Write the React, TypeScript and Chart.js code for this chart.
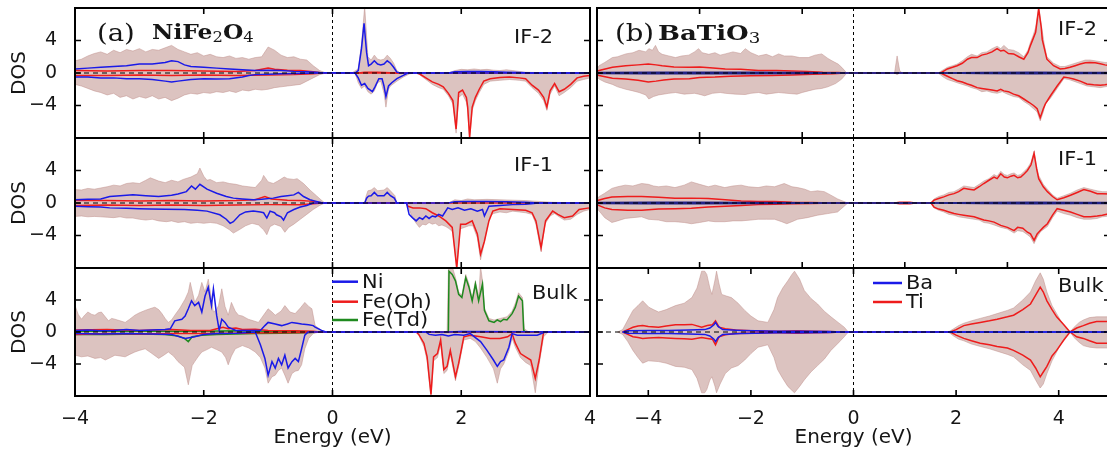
import React, { useEffect, useRef } from 'react';
import { Chart, registerables } from 'chart.js';

Chart.register(...registerables);

type Pt = [number, number];

// ---------------- tick values ----------------
const leftTicks = [-4, -2, 0, 2, 4];
const rightOddTicks = [-5, -3, -1, 1, 3, 5];
const rightEvenTicks = [-4, -2, 0, 2, 4];
const dosTicks = [-4, 0, 4];

// ---------------- (a) NiFe2O4 : IF-2 ----------------
const nfIf2TotUp: Pt[] = [[-4,1.5],[-3.9,1.7],[-3.8,2.1],[-3.7,2.4],[-3.6,2.6],[-3.5,2.3],[-3.4,2.8],[-3.3,2.5],[-3.2,2.9],[-3.1,2.7],[-3.0,3.0],[-2.9,2.6],[-2.8,2.9],[-2.7,2.8],[-2.6,3.1],[-2.5,3.4],[-2.4,2.9],[-2.3,2.6],[-2.2,2.3],[-2.1,2.5],[-2.0,2.1],[-1.9,2.3],[-1.8,2.0],[-1.7,1.9],[-1.6,2.1],[-1.5,1.8],[-1.4,1.9],[-1.3,1.7],[-1.2,1.9],[-1.1,2.0],[-1.0,3.2],[-0.9,2.8],[-0.8,2.2],[-0.7,1.9],[-0.6,2.0],[-0.5,1.7],[-0.4,1.6],[-0.3,0.9],[-0.2,0.3],[-0.1,0],[0.3,0],[0.4,0.5],[0.45,3.5],[0.5,8.2],[0.55,2.0],[0.6,1.6],[0.65,2.2],[0.7,1.7],[0.75,1.6],[0.8,1.7],[0.85,2.2],[0.9,1.8],[0.95,1.2],[1.0,0.3],[1.05,0],[1.8,0],[1.9,0.3],[2.0,0.45],[2.1,0.4],[2.2,0.5],[2.3,0.4],[2.4,0.45],[2.5,0.35],[2.6,0.3],[2.7,0.4],[2.8,0.3],[2.9,0.2],[3.0,0.1],[3.2,0.05],[4,0.05]];
const nfIf2TotDn: Pt[] = [[-4,-1.4],[-3.9,-1.6],[-3.8,-1.9],[-3.7,-2.2],[-3.6,-2.4],[-3.5,-2.7],[-3.4,-2.5],[-3.3,-3.0],[-3.2,-2.8],[-3.1,-3.2],[-3.0,-2.9],[-2.9,-3.1],[-2.8,-2.8],[-2.7,-3.2],[-2.6,-3.0],[-2.5,-3.4],[-2.4,-3.1],[-2.3,-2.7],[-2.2,-2.5],[-2.1,-2.6],[-2.0,-2.4],[-1.9,-2.5],[-1.8,-2.3],[-1.7,-2.4],[-1.6,-2.2],[-1.5,-2.4],[-1.4,-2.1],[-1.3,-2.2],[-1.2,-2.0],[-1.1,-2.1],[-1.0,-2.0],[-0.9,-1.8],[-0.8,-1.7],[-0.7,-1.6],[-0.6,-1.5],[-0.5,-1.4],[-0.4,-1.0],[-0.3,-0.6],[-0.2,-0.2],[-0.1,0],[0.35,0],[0.4,-1.2],[0.45,-1.9],[0.5,-1.6],[0.55,-2.3],[0.6,-2.6],[0.65,-2.2],[0.7,-1.2],[0.75,-1.0],[0.8,-2.5],[0.83,-4.2],[0.87,-2.0],[0.9,-1.6],[1.0,-1.0],[1.1,-0.5],[1.2,-0.1],[1.3,0],[1.35,-0.2],[1.45,-0.8],[1.55,-1.4],[1.65,-1.8],[1.72,-2.0],[1.8,-2.8],[1.87,-3.8],[1.92,-7.4],[1.96,-3.0],[2.02,-2.6],[2.08,-3.6],[2.1,-4.6],[2.13,-8.2],[2.17,-4.6],[2.22,-3.4],[2.28,-2.4],[2.35,-1.4],[2.45,-1.0],[2.6,-0.9],[2.75,-0.8],[2.9,-0.9],[3.0,-1.0],[3.1,-1.8],[3.2,-2.5],[3.28,-3.4],[3.33,-4.6],[3.38,-2.6],[3.45,-1.6],[3.52,-2.8],[3.6,-2.4],[3.7,-1.8],[3.8,-1.0],[3.9,-0.8],[4,-0.6]];
const nfIf2NiUp: Pt[] = [[-4,0.5],[-3.8,0.6],[-3.6,0.7],[-3.4,0.8],[-3.2,0.9],[-3.0,1.1],[-2.8,1.1],[-2.6,1.3],[-2.5,1.5],[-2.4,1.4],[-2.3,1.0],[-2.2,0.8],[-2.0,0.7],[-1.8,0.6],[-1.6,0.5],[-1.4,0.4],[-1.2,0.3],[-1.0,0.35],[-0.8,0.3],[-0.6,0.2],[-0.4,0.15],[-0.2,0.05],[0.35,0],[0.4,0.3],[0.45,3.0],[0.49,6.1],[0.53,2.5],[0.56,0.9],[0.6,1.1],[0.65,1.5],[0.7,1.1],[0.75,1.0],[0.8,1.1],[0.85,1.5],[0.9,1.2],[0.95,0.7],[1.0,0.1],[1.05,0],[1.8,0],[1.9,0.15],[2.1,0.2],[2.3,0.2],[2.5,0.15],[2.7,0.1],[2.9,0.05],[3.1,0],[4,0]];
const nfIf2NiDn: Pt[] = [[-4,-0.5],[-3.8,-0.5],[-3.6,-0.6],[-3.4,-0.6],[-3.2,-0.7],[-3.0,-0.7],[-2.8,-0.8],[-2.6,-1.0],[-2.5,-1.1],[-2.4,-1.0],[-2.2,-0.8],[-2.0,-0.7],[-1.8,-0.75],[-1.6,-0.7],[-1.4,-0.5],[-1.3,-0.3],[-1.2,-0.2],[-1.0,-0.15],[-0.8,-0.1],[-0.6,-0.05],[-0.2,0],[0.35,0],[0.4,-0.6],[0.45,-1.5],[0.5,-1.3],[0.55,-1.9],[0.62,-2.3],[0.66,-1.7],[0.72,-0.7],[0.77,-0.7],[0.8,-1.6],[0.83,-2.9],[0.87,-1.6],[0.92,-1.2],[1.0,-0.7],[1.1,-0.3],[1.17,0],[4,0]];
const nfIf2FeUp: Pt[] = [[-4,0.3],[-3.5,0.25],[-3,0.3],[-2.5,0.3],[-2,0.25],[-1.5,0.2],[-1.2,0.3],[-1.0,0.6],[-0.9,0.45],[-0.7,0.35],[-0.5,0.3],[-0.3,0.15],[-0.15,0],[0.4,0],[0.5,0.1],[0.7,0.1],[1.0,0],[4,0]];
const nfIf2FeDn: Pt[] = [[-4,-0.3],[-3.5,-0.3],[-3,-0.25],[-2.5,-0.3],[-2,-0.25],[-1.5,-0.3],[-1,-0.25],[-0.6,-0.2],[-0.3,-0.1],[-0.15,0],[1.3,0],[1.35,-0.1],[1.45,-0.6],[1.55,-1.1],[1.65,-1.4],[1.72,-1.7],[1.8,-2.5],[1.87,-3.4],[1.92,-6.9],[1.96,-2.4],[2.02,-2.1],[2.08,-3.0],[2.1,-4.2],[2.13,-7.9],[2.17,-4.2],[2.22,-3.0],[2.28,-2.0],[2.35,-1.0],[2.45,-0.7],[2.6,-0.55],[2.75,-0.5],[2.9,-0.6],[3.0,-0.7],[3.1,-1.5],[3.2,-2.1],[3.28,-3.0],[3.33,-4.2],[3.38,-2.2],[3.45,-1.3],[3.52,-2.3],[3.6,-2.0],[3.7,-1.4],[3.8,-0.6],[3.9,-0.4],[4,-0.3]];

// ---------------- (a) NiFe2O4 : IF-1 ----------------
const nfIf1TotUp: Pt[] = [[-4,1.65],[-3.9,1.6],[-3.8,1.8],[-3.7,1.7],[-3.6,1.85],[-3.5,2.0],[-3.4,2.2],[-3.3,2.1],[-3.2,2.4],[-3.1,2.5],[-3.0,2.4],[-2.9,2.8],[-2.83,3.1],[-2.7,2.7],[-2.6,2.5],[-2.5,2.8],[-2.4,2.6],[-2.32,2.9],[-2.2,3.2],[-2.1,3.6],[-2.06,4.3],[-2.0,3.3],[-1.95,2.8],[-1.9,2.9],[-1.8,2.5],[-1.7,2.6],[-1.6,2.4],[-1.5,2.3],[-1.4,2.1],[-1.3,2.0],[-1.2,1.9],[-1.1,2.8],[-1.07,3.4],[-1.0,2.6],[-0.92,2.4],[-0.85,2.7],[-0.75,3.2],[-0.7,3.0],[-0.6,2.9],[-0.55,3.0],[-0.45,2.4],[-0.35,1.6],[-0.25,0.9],[-0.18,0.4],[-0.12,0],[0.5,0],[0.52,0.8],[0.55,1.5],[0.6,1.6],[0.65,1.9],[0.7,1.5],[0.8,1.6],[0.85,1.9],[0.9,1.5],[0.97,0.9],[1.0,0],[1.8,0],[1.9,0.4],[2.0,0.3],[2.1,0.5],[2.2,0.4],[2.4,0.45],[2.6,0.4],[2.8,0.35],[3.0,0.3],[3.2,0.2],[3.4,0.1],[3.6,0.05],[4,0.05]];
const nfIf1TotDn: Pt[] = [[-4,-1.65],[-3.9,-1.6],[-3.8,-1.7],[-3.7,-1.65],[-3.6,-1.7],[-3.5,-1.75],[-3.4,-1.8],[-3.3,-1.7],[-3.2,-1.85],[-3.1,-1.85],[-3.0,-2.0],[-2.9,-2.1],[-2.8,-2.0],[-2.7,-2.2],[-2.58,-2.3],[-2.5,-2.2],[-2.4,-2.4],[-2.3,-2.3],[-2.2,-2.5],[-2.1,-2.4],[-2.0,-2.5],[-1.9,-2.4],[-1.8,-2.5],[-1.7,-2.8],[-1.6,-3.3],[-1.54,-3.7],[-1.45,-3.3],[-1.35,-2.8],[-1.25,-2.5],[-1.15,-2.7],[-1.07,-3.3],[-1.02,-3.9],[-0.97,-2.9],[-0.9,-2.6],[-0.8,-2.9],[-0.74,-3.6],[-0.68,-3.0],[-0.6,-2.6],[-0.5,-2.0],[-0.4,-1.4],[-0.3,-0.8],[-0.2,-0.3],[-0.12,0],[1.15,0],[1.2,-1.0],[1.25,-1.9],[1.3,-2.5],[1.35,-3.0],[1.4,-2.6],[1.45,-2.7],[1.5,-2.4],[1.55,-2.6],[1.6,-2.5],[1.65,-2.8],[1.7,-2.7],[1.76,-2.9],[1.82,-3.2],[1.87,-3.6],[1.93,-8.2],[1.98,-3.2],[2.05,-3.0],[2.12,-2.8],[2.18,-2.8],[2.25,-4.3],[2.3,-7.0],[2.35,-5.2],[2.4,-3.0],[2.45,-1.6],[2.5,-1.3],[2.6,-1.1],[2.7,-1.2],[2.8,-1.0],[2.9,-1.1],[3.0,-1.2],[3.1,-1.4],[3.16,-2.6],[3.24,-6.0],[3.3,-2.6],[3.38,-1.6],[3.45,-1.3],[3.52,-1.7],[3.6,-2.1],[3.7,-2.0],[3.8,-1.4],[3.9,-1.0],[4,-0.8]];
const nfIf1NiUp: Pt[] = [[-4,0.4],[-3.8,0.45],[-3.6,0.5],[-3.46,0.8],[-3.3,0.9],[-3.1,1.0],[-2.9,0.9],[-2.7,0.8],[-2.5,0.95],[-2.4,1.1],[-2.27,1.4],[-2.19,2.1],[-2.13,1.7],[-2.06,2.3],[-1.95,1.7],[-1.8,1.2],[-1.65,0.8],[-1.54,0.6],[-1.4,0.5],[-1.23,0.4],[-1.1,0.45],[-0.92,0.6],[-0.8,0.8],[-0.7,0.9],[-0.6,1.0],[-0.53,1.3],[-0.45,0.8],[-0.35,0.4],[-0.25,0.2],[-0.15,0],[0.5,0],[0.53,0.6],[0.56,0.85],[0.6,0.9],[0.65,1.3],[0.7,0.9],[0.8,0.9],[0.85,1.3],[0.9,0.9],[0.96,0.6],[1.0,0],[1.8,0],[1.9,0.15],[2.1,0.2],[2.4,0.2],[2.7,0.15],[3.0,0.1],[3.2,0],[4,0]];
const nfIf1NiDn: Pt[] = [[-4,-0.4],[-3.8,-0.45],[-3.6,-0.5],[-3.46,-0.6],[-3.2,-0.65],[-3.0,-0.7],[-2.83,-0.75],[-2.6,-0.78],[-2.3,-0.8],[-2.1,-0.9],[-1.95,-1.0],[-1.75,-1.45],[-1.65,-2.0],[-1.59,-2.5],[-1.54,-2.3],[-1.44,-1.45],[-1.35,-1.1],[-1.23,-1.0],[-1.12,-1.1],[-1.07,-1.2],[-1.02,-1.85],[-0.97,-1.0],[-0.9,-1.2],[-0.87,-1.45],[-0.8,-1.7],[-0.76,-2.1],[-0.7,-1.2],[-0.6,-0.8],[-0.5,-0.5],[-0.4,-0.3],[-0.3,0],[1.15,0],[1.19,-1.4],[1.24,-1.8],[1.3,-2.2],[1.35,-1.8],[1.4,-2.0],[1.45,-1.6],[1.5,-1.9],[1.55,-1.6],[1.6,-1.7],[1.65,-1.4],[1.71,-1.6],[1.79,-0.6],[1.86,-0.8],[1.95,-0.6],[2.05,-0.9],[2.15,-0.7],[2.25,-1.0],[2.33,-0.8],[2.36,-1.6],[2.43,-0.4],[2.6,-0.3],[2.8,-0.2],[3.0,-0.15],[3.2,0],[4,0]];
const nfIf1FeUp: Pt[] = [[-4,0.3],[-3.5,0.3],[-3,0.25],[-2.5,0.3],[-2,0.25],[-1.5,0.3],[-1.2,0.4],[-1.05,0.8],[-0.95,0.5],[-0.7,0.35],[-0.5,0.3],[-0.3,0.2],[-0.15,0],[4,0]];
const nfIf1FeDn: Pt[] = [[-4,-0.3],[-3.5,-0.25],[-3,-0.3],[-2.5,-0.25],[-2,-0.3],[-1.5,-0.25],[-1,-0.2],[-0.5,-0.2],[-0.3,-0.1],[-0.15,0],[1.15,0],[1.17,-0.4],[1.25,-0.6],[1.35,-0.6],[1.45,-0.7],[1.55,-1.2],[1.65,-1.6],[1.76,-2.2],[1.86,-3.0],[1.93,-8.0],[1.99,-2.6],[2.07,-2.6],[2.17,-2.2],[2.25,-3.8],[2.3,-6.3],[2.36,-4.7],[2.43,-2.2],[2.49,-1.0],[2.6,-0.7],[2.8,-0.8],[3.0,-0.9],[3.1,-1.2],[3.16,-2.2],[3.24,-5.5],[3.31,-2.2],[3.42,-1.0],[3.5,-1.4],[3.6,-1.8],[3.73,-1.6],[3.83,-0.8],[3.99,-0.6],[4,-0.6]];

// ---------------- (a) NiFe2O4 : Bulk ----------------
const nfBulkTotUp: Pt[] = [[-4,3.3],[-3.95,2.2],[-3.9,1.6],[-3.85,2.1],[-3.8,2.5],[-3.74,2.2],[-3.69,2.1],[-3.64,2.4],[-3.59,2.5],[-3.53,1.9],[-3.48,1.4],[-3.43,1.7],[-3.38,1.6],[-3.3,1.4],[-3.22,1.2],[-3.15,1.6],[-3.07,2.1],[-3.0,2.4],[-2.91,2.7],[-2.84,2.9],[-2.76,3.1],[-2.7,2.8],[-2.65,2.3],[-2.6,1.7],[-2.55,1.2],[-2.5,1.5],[-2.45,2.1],[-2.37,3.0],[-2.29,4.1],[-2.24,5.0],[-2.21,6.2],[-2.17,4.8],[-2.14,3.7],[-2.08,4.6],[-2.03,6.2],[-1.98,5.0],[-1.93,6.6],[-1.88,4.2],[-1.85,2.5],[-1.8,2.8],[-1.77,3.3],[-1.72,5.4],[-1.67,3.2],[-1.62,2.1],[-1.57,3.7],[-1.51,2.6],[-1.46,2.1],[-1.4,2.0],[-1.31,1.6],[-1.23,1.4],[-1.15,1.2],[-1.08,2.0],[-1.0,2.9],[-0.94,2.5],[-0.89,2.1],[-0.8,2.6],[-0.74,3.3],[-0.66,2.5],[-0.58,2.3],[-0.5,3.0],[-0.43,3.7],[-0.37,3.2],[-0.32,2.9],[-0.27,0.8],[-0.17,0.2],[-0.1,0],[1.78,0],[1.8,7.8],[1.86,8.2],[1.91,6.8],[1.96,5.0],[2.01,4.6],[2.07,7.2],[2.12,6.0],[2.17,4.2],[2.22,6.4],[2.27,4.3],[2.3,8.2],[2.33,6.4],[2.36,3.0],[2.43,1.7],[2.51,1.5],[2.61,1.7],[2.71,1.9],[2.79,2.6],[2.84,3.6],[2.89,4.9],[2.95,4.3],[2.98,0.4],[3.05,0],[4,0]];
const nfBulkTotDn: Pt[] = [[-4,-2.9],[-3.9,-3.1],[-3.8,-3.0],[-3.69,-3.3],[-3.6,-3.2],[-3.53,-3.5],[-3.45,-3.2],[-3.38,-2.9],[-3.3,-3.0],[-3.22,-3.1],[-3.15,-2.8],[-3.07,-2.5],[-3.0,-2.3],[-2.91,-2.1],[-2.82,-2.6],[-2.7,-3.3],[-2.62,-2.9],[-2.55,-2.5],[-2.47,-3.0],[-2.4,-3.7],[-2.3,-4.4],[-2.24,-6.6],[-2.18,-4.2],[-2.14,-3.7],[-2.08,-3.0],[-2.03,-2.5],[-1.95,-2.2],[-1.88,-1.9],[-1.8,-2.2],[-1.72,-2.5],[-1.66,-3.2],[-1.62,-4.1],[-1.57,-3.0],[-1.51,-2.1],[-1.4,-1.7],[-1.3,-2.0],[-1.2,-2.5],[-1.12,-3.2],[-1.05,-4.5],[-1.0,-6.4],[-0.94,-5.6],[-0.89,-5.4],[-0.84,-4.8],[-0.79,-4.5],[-0.74,-5.4],[-0.69,-6.4],[-0.63,-5.2],[-0.58,-4.9],[-0.53,-4.8],[-0.48,-4.1],[-0.43,-2.1],[-0.37,-0.8],[-0.3,-0.2],[-0.2,0],[1.3,0],[1.34,-0.4],[1.42,-1.8],[1.47,-3.6],[1.5,-6.0],[1.53,-8.2],[1.57,-3.6],[1.63,-3.2],[1.68,-1.6],[1.73,-5.2],[1.78,-4.8],[1.83,-2.8],[1.91,-6.1],[1.96,-4.3],[2.04,-1.0],[2.14,-0.8],[2.22,-1.2],[2.3,-2.0],[2.4,-3.2],[2.5,-4.6],[2.56,-6.4],[2.61,-4.6],[2.66,-4.0],[2.74,-2.4],[2.79,-0.8],[2.84,-1.9],[2.92,-3.2],[3.0,-3.8],[3.08,-4.2],[3.15,-7.6],[3.21,-4.0],[3.28,-0.6],[3.35,0],[4,0]];
const nfBulkNiUp: Pt[] = [[-4,0.2],[-3.8,0.25],[-3.6,0.15],[-3.4,0.2],[-3.2,0.3],[-3.0,0.2],[-2.8,0.25],[-2.6,0.3],[-2.52,0.4],[-2.45,1.4],[-2.34,1.6],[-2.29,2.0],[-2.24,2.9],[-2.19,3.9],[-2.14,3.3],[-2.08,3.7],[-2.03,2.5],[-1.98,4.5],[-1.93,5.6],[-1.88,3.3],[-1.85,5.4],[-1.8,2.1],[-1.76,0.2],[-1.72,1.6],[-1.67,1.2],[-1.62,0.6],[-1.5,0.2],[-1.3,0.2],[-1.12,0.2],[-1.05,0.8],[-1.0,1.2],[-0.89,1.0],[-0.79,0.8],[-0.7,1.0],[-0.63,1.2],[-0.55,1.1],[-0.48,1.0],[-0.37,0.9],[-0.3,0.8],[-0.27,0.6],[-0.17,0.2],[-0.1,0],[1.8,0],[2.0,0.05],[4,0]];
const nfBulkNiDn: Pt[] = [[-4,-0.2],[-3.6,-0.25],[-3.2,-0.2],[-2.8,-0.25],[-2.5,-0.3],[-2.29,-0.8],[-2.14,-0.6],[-2.0,-0.3],[-1.8,-0.2],[-1.5,-0.15],[-1.2,0],[-1.12,-1.6],[-1.05,-3.3],[-1.0,-5.4],[-0.94,-3.7],[-0.89,-4.5],[-0.84,-3.3],[-0.79,-4.1],[-0.74,-2.9],[-0.69,-4.5],[-0.63,-3.7],[-0.58,-3.3],[-0.53,-3.7],[-0.48,-2.1],[-0.43,-0.4],[-0.38,0],[1.45,0],[1.5,-0.3],[1.6,-0.4],[1.7,-0.3],[1.8,-0.5],[1.9,-0.3],[2.04,-0.4],[2.14,-0.2],[2.3,-1.2],[2.4,-2.3],[2.5,-3.5],[2.56,-4.3],[2.61,-3.7],[2.66,-3.5],[2.74,-1.9],[2.79,-0.2],[2.87,-0.4],[3.0,-0.4],[3.18,-0.4],[3.3,0],[4,0]];
const nfBulkFeOhUp: Pt[] = [[-4,0.25],[-3.5,0.3],[-3.0,0.2],[-2.5,0.3],[-2.2,0.2],[-1.9,0.2],[-1.75,0.5],[-1.7,0.6],[-1.62,0.4],[-1.5,0.5],[-1.4,0.3],[-1.2,0.35],[-1.0,0.2],[-0.6,0.15],[-0.3,0.1],[-0.2,0],[4,0]];
const nfBulkFeOhDn: Pt[] = [[-4,-0.3],[-3.5,-0.2],[-3,-0.25],[-2.5,-0.2],[-2,-0.2],[-1.5,-0.15],[-1,-0.1],[-0.4,-0.05],[-0.2,0],[1.3,0],[1.34,-0.3],[1.42,-1.4],[1.47,-3.1],[1.5,-5.5],[1.53,-7.8],[1.57,-3.1],[1.63,-2.7],[1.68,-1.0],[1.73,-4.7],[1.78,-4.3],[1.83,-2.3],[1.91,-5.6],[1.96,-3.9],[2.04,-0.6],[2.14,-0.4],[2.3,-0.6],[2.45,-0.8],[2.6,-0.8],[2.72,-0.6],[2.79,-0.2],[2.84,-1.4],[2.92,-2.7],[3.0,-3.1],[3.08,-3.5],[3.15,-5.8],[3.21,-3.5],[3.28,0],[4,0]];
const nfBulkFeTdUp: Pt[] = [[-4,0.1],[-3,0.1],[-2,0.1],[-1.5,0.15],[-1,0.1],[-0.5,0.05],[-0.2,0],[1.8,0],[1.81,7.6],[1.86,7.2],[1.91,6.4],[1.96,4.7],[2.01,4.3],[2.07,6.8],[2.12,5.6],[2.17,3.9],[2.22,6.0],[2.27,3.9],[2.33,6.0],[2.36,2.7],[2.43,1.4],[2.51,1.2],[2.56,1.5],[2.61,1.3],[2.66,1.6],[2.71,1.5],[2.79,2.3],[2.84,3.1],[2.89,4.5],[2.95,3.9],[2.97,0.2],[3.0,0],[4,0]];
const nfBulkFeTdDn: Pt[] = [[-4,-0.3],[-3.5,-0.3],[-3.0,-0.25],[-2.6,-0.3],[-2.4,-0.5],[-2.3,-0.8],[-2.24,-1.2],[-2.18,-0.6],[-2.03,-0.4],[-1.8,-0.3],[-1.5,-0.25],[-1.2,-0.2],[-0.8,-0.15],[-0.4,-0.1],[-0.2,0],[4,0]];

// ---------------- (b) BaTiO3 : IF-2 ----------------
const btIf2TotUp: Pt[] = [[-5,0.5],[-4.96,0.9],[-4.85,1.3],[-4.7,1.9],[-4.6,2.0],[-4.44,2.35],[-4.3,2.5],[-4.18,2.8],[-4.05,2.6],[-3.99,3.0],[-3.92,2.8],[-3.86,3.4],[-3.8,2.6],[-3.73,2.3],[-3.6,2.1],[-3.47,1.9],[-3.35,2.1],[-3.21,2.2],[-3.1,2.6],[-3.02,3.0],[-2.95,2.5],[-2.82,2.3],[-2.7,2.5],[-2.6,2.2],[-2.5,2.35],[-2.35,2.6],[-2.2,2.4],[-2.11,3.0],[-2.0,2.5],[-1.85,2.1],[-1.7,2.3],[-1.58,2.0],[-1.46,2.35],[-1.35,2.1],[-1.2,2.1],[-1.05,1.9],[-0.88,1.9],[-0.75,2.2],[-0.62,2.35],[-0.5,1.8],[-0.42,1.5],[-0.3,1.1],[-0.23,0.7],[-0.13,0],[0.8,0],[0.85,2.1],[0.9,0.3],[0.95,0],[1.65,0],[1.75,0.4],[1.83,0.7],[1.93,0.9],[2.02,1.1],[2.12,1.5],[2.22,2.0],[2.3,2.3],[2.41,2.1],[2.5,2.5],[2.6,2.6],[2.7,3.0],[2.8,3.3],[2.87,3.0],[2.93,3.4],[3.02,2.9],[3.12,2.8],[3.22,2.5],[3.32,2.0],[3.4,2.8],[3.45,3.8],[3.5,4.6],[3.55,5.6],[3.61,8.2],[3.66,6.0],[3.72,3.5],[3.77,2.0],[3.9,1.2],[4.03,0.8],[4.12,0.8],[4.22,1.0],[4.32,1.2],[4.42,1.4],[4.52,1.6],[4.61,1.6],[4.71,1.5],[4.81,1.4],[4.9,1.3],[5,1.3]];
const btIf2TotDn: Pt[] = [[-5,-0.5],[-4.96,-0.75],[-4.85,-1.1],[-4.7,-1.4],[-4.6,-1.7],[-4.44,-2.0],[-4.3,-2.2],[-4.18,-2.4],[-4.05,-2.7],[-3.99,-3.2],[-3.9,-2.9],[-3.8,-2.7],[-3.6,-2.5],[-3.47,-2.4],[-3.3,-2.6],[-3.1,-2.5],[-3.02,-2.6],[-2.9,-2.8],[-2.75,-2.5],[-2.6,-2.4],[-2.5,-2.5],[-2.3,-2.6],[-2.11,-2.65],[-2.0,-2.5],[-1.85,-2.4],[-1.7,-2.6],[-1.46,-2.4],[-1.3,-2.5],[-1.1,-2.6],[-1.0,-2.4],[-0.88,-2.2],[-0.75,-2.0],[-0.62,-1.9],[-0.5,-1.7],[-0.35,-1.3],[-0.23,-0.75],[-0.13,0],[0.8,0],[0.85,-0.2],[0.9,0],[1.65,0],[1.75,-0.5],[1.83,-0.8],[1.93,-1.0],[2.02,-1.2],[2.12,-1.4],[2.22,-1.6],[2.3,-1.8],[2.41,-2.0],[2.5,-2.3],[2.6,-2.2],[2.7,-2.4],[2.8,-2.5],[2.9,-2.3],[3.0,-2.6],[3.12,-2.9],[3.22,-3.0],[3.32,-3.5],[3.42,-3.9],[3.51,-4.4],[3.58,-4.8],[3.64,-5.9],[3.7,-4.8],[3.74,-3.8],[3.84,-3.1],[3.97,-1.9],[4.1,-0.7],[4.2,-0.8],[4.29,-1.0],[4.42,-1.3],[4.55,-1.6],[4.68,-1.7],[4.81,-1.8],[4.9,-1.7],[5,-1.6]];
const btIf2TiUp: Pt[] = [[-5,0.2],[-4.96,0.3],[-4.7,0.7],[-4.44,0.9],[-4.2,1.0],[-4.0,1.1],[-3.85,1.0],[-3.73,0.9],[-3.5,0.75],[-3.2,0.7],[-3.0,0.75],[-2.8,0.65],[-2.5,0.5],[-2.2,0.45],[-1.85,0.3],[-1.5,0.3],[-1.2,0.25],[-0.9,0.2],[-0.6,0.1],[-0.3,0.05],[-0.15,0],[1.7,0],[1.83,0.5],[1.93,0.7],[2.02,0.9],[2.12,1.2],[2.22,1.7],[2.3,1.9],[2.41,1.9],[2.5,2.2],[2.6,2.35],[2.7,2.6],[2.8,3.0],[2.87,2.7],[2.93,2.8],[3.02,2.4],[3.12,2.35],[3.22,2.0],[3.32,1.7],[3.4,2.5],[3.45,3.4],[3.5,4.2],[3.55,5.0],[3.61,7.9],[3.66,5.6],[3.68,4.1],[3.77,1.7],[3.9,0.9],[4.03,0.5],[4.12,0.55],[4.22,0.7],[4.32,0.9],[4.42,1.1],[4.52,1.25],[4.61,1.3],[4.71,1.25],[4.81,1.15],[4.9,1.0],[5,0.9]];
const btIf2TiDn: Pt[] = [[-5,-0.2],[-4.96,-0.3],[-4.7,-0.65],[-4.44,-0.75],[-4.2,-0.9],[-4.0,-1.1],[-3.85,-1.0],[-3.7,-0.85],[-3.5,-0.75],[-3.2,-0.7],[-3.0,-0.55],[-2.7,-0.5],[-2.4,-0.4],[-2.0,-0.35],[-1.6,-0.3],[-1.2,-0.25],[-0.8,-0.15],[-0.4,-0.1],[-0.15,0],[1.7,0],[1.83,-0.4],[1.93,-0.7],[2.02,-0.95],[2.12,-1.1],[2.22,-1.35],[2.3,-1.5],[2.41,-1.8],[2.5,-1.9],[2.6,-2.0],[2.7,-2.1],[2.8,-2.2],[2.87,-2.0],[2.93,-2.2],[3.02,-2.3],[3.12,-2.6],[3.22,-2.8],[3.32,-3.2],[3.42,-3.6],[3.51,-4.0],[3.58,-4.4],[3.64,-5.5],[3.7,-4.4],[3.74,-3.8],[3.84,-2.8],[3.97,-1.6],[4.1,-0.5],[4.2,-0.6],[4.29,-0.75],[4.42,-1.0],[4.55,-1.35],[4.68,-1.45],[4.81,-1.5],[4.9,-1.45],[5,-1.35]];
const btIf2BaUp: Pt[] = [[-5,0.05],[-4,0.08],[-3,0.1],[-2,0.08],[-1,0.05],[-0.2,0],[1.7,0],[2.5,0.05],[3.5,0.08],[4.5,0.05],[5,0.05]];
const btIf2BaDn: Pt[] = [[-5,-0.05],[-4,-0.08],[-3,-0.1],[-2,-0.08],[-1,-0.05],[-0.2,0],[1.7,0],[2.5,-0.05],[3.5,-0.08],[4.5,-0.05],[5,-0.05]];

// ---------------- (b) BaTiO3 : IF-1 ----------------
const btIf1TotUp: Pt[] = [[-5,0.4],[-4.97,0.75],[-4.85,1.2],[-4.71,1.8],[-4.6,2.0],[-4.45,2.2],[-4.3,2.1],[-4.13,2.4],[-4.0,2.3],[-3.9,2.1],[-3.8,2.0],[-3.65,2.1],[-3.48,1.9],[-3.3,2.2],[-3.16,2.6],[-3.0,2.3],[-2.83,2.0],[-2.7,2.2],[-2.51,1.9],[-2.35,2.1],[-2.19,2.2],[-2.05,2.0],[-1.86,1.9],[-1.7,2.1],[-1.54,2.0],[-1.35,2.4],[-1.2,2.0],[-1.09,1.9],[-0.95,1.7],[-0.83,1.4],[-0.7,1.5],[-0.57,1.4],[-0.45,1.0],[-0.31,0.5],[-0.11,0],[1.51,0],[1.57,0.5],[1.66,0.8],[1.76,1.0],[1.86,1.3],[1.96,1.4],[2.05,1.7],[2.15,2.1],[2.25,2.0],[2.35,1.9],[2.45,2.3],[2.54,2.7],[2.64,3.0],[2.74,3.5],[2.8,3.3],[2.87,3.9],[2.94,3.5],[3.0,3.4],[3.07,3.6],[3.13,3.7],[3.2,3.4],[3.26,3.5],[3.33,3.9],[3.39,4.3],[3.46,5.0],[3.52,6.4],[3.57,4.5],[3.61,3.4],[3.7,2.3],[3.78,1.7],[3.88,1.0],[3.97,0.6],[4.1,0.9],[4.23,1.2],[4.36,1.6],[4.49,1.9],[4.62,1.7],[4.75,1.5],[4.85,1.4],[5,1.4]];
const btIf1TotDn: Pt[] = [[-5,-0.5],[-4.97,-0.9],[-4.85,-1.8],[-4.71,-2.4],[-4.6,-2.2],[-4.45,-1.9],[-4.3,-1.8],[-4.13,-1.7],[-4.0,-2.0],[-3.8,-2.1],[-3.65,-2.3],[-3.48,-2.3],[-3.3,-2.4],[-3.16,-2.55],[-3.0,-2.4],[-2.83,-2.2],[-2.7,-2.3],[-2.51,-2.3],[-2.35,-2.2],[-2.19,-2.2],[-2.0,-2.1],[-1.86,-2.0],[-1.7,-2.0],[-1.54,-2.0],[-1.4,-2.3],[-1.3,-2.55],[-1.2,-2.3],[-1.09,-2.0],[-0.9,-1.8],[-0.7,-1.5],[-0.5,-1.3],[-0.31,-1.1],[-0.2,-0.5],[-0.11,0],[1.51,0],[1.57,-0.6],[1.66,-0.9],[1.76,-1.1],[1.86,-1.4],[1.96,-1.5],[2.05,-1.7],[2.15,-1.8],[2.25,-1.9],[2.35,-2.0],[2.45,-2.1],[2.54,-2.4],[2.64,-2.5],[2.74,-2.7],[2.87,-3.0],[3.0,-3.2],[3.13,-3.7],[3.2,-3.4],[3.3,-3.5],[3.39,-3.9],[3.45,-4.2],[3.52,-5.0],[3.58,-4.2],[3.65,-3.5],[3.78,-2.9],[3.88,-1.8],[3.97,-1.0],[4.1,-1.3],[4.23,-1.5],[4.36,-1.8],[4.49,-2.0],[4.62,-2.0],[4.75,-1.9],[4.85,-1.7],[5,-1.6]];
const btIf1TiUp: Pt[] = [[-5,0.2],[-4.97,0.35],[-4.85,0.55],[-4.71,0.75],[-4.4,0.8],[-4.13,0.8],[-3.8,0.7],[-3.48,0.6],[-3.16,0.6],[-2.83,0.55],[-2.5,0.4],[-2.19,0.25],[-1.86,0.2],[-1.54,0.2],[-1.2,0.1],[-0.83,0.05],[-0.4,0],[0.8,0],[0.9,0.1],[1.1,0.1],[1.2,0],[1.51,0],[1.57,0.35],[1.66,0.55],[1.76,0.75],[1.86,1.0],[1.96,1.15],[2.05,1.4],[2.15,1.8],[2.25,1.7],[2.35,1.6],[2.45,2.0],[2.54,2.4],[2.64,2.8],[2.74,3.2],[2.8,3.0],[2.87,3.6],[2.94,3.2],[3.0,3.1],[3.07,3.3],[3.13,3.4],[3.2,3.1],[3.26,3.2],[3.33,3.6],[3.39,4.0],[3.46,4.7],[3.52,6.1],[3.57,4.2],[3.61,3.0],[3.7,2.0],[3.78,1.4],[3.88,0.8],[3.97,0.4],[4.1,0.65],[4.23,0.95],[4.36,1.3],[4.49,1.65],[4.62,1.45],[4.75,1.15],[4.85,1.15],[5,1.1]];
const btIf1TiDn: Pt[] = [[-5,-0.2],[-4.97,-0.3],[-4.85,-0.6],[-4.71,-0.8],[-4.4,-0.9],[-4.13,-0.9],[-3.8,-0.75],[-3.48,-0.7],[-3.16,-0.65],[-2.83,-0.5],[-2.5,-0.4],[-2.19,-0.3],[-1.86,-0.2],[-1.54,-0.15],[-1.2,-0.1],[-0.83,-0.05],[-0.4,0],[0.8,0],[0.9,-0.1],[1.1,-0.1],[1.2,0],[1.51,0],[1.57,-0.5],[1.66,-0.75],[1.76,-0.9],[1.86,-1.1],[1.96,-1.3],[2.05,-1.4],[2.15,-1.5],[2.25,-1.6],[2.35,-1.7],[2.45,-1.9],[2.54,-2.1],[2.64,-2.2],[2.74,-2.35],[2.87,-2.75],[3.0,-3.0],[3.13,-3.4],[3.2,-3.0],[3.3,-3.1],[3.39,-3.6],[3.45,-3.8],[3.52,-4.6],[3.58,-3.8],[3.61,-3.6],[3.7,-3.0],[3.78,-2.55],[3.88,-1.5],[3.97,-0.7],[4.1,-0.9],[4.23,-1.1],[4.36,-1.4],[4.49,-1.7],[4.62,-1.7],[4.75,-1.6],[4.85,-1.5],[5,-1.3]];
const btIf1BaUp: Pt[] = [[-5,0.05],[-4,0.1],[-3,0.08],[-2,0.06],[-1,0.04],[-0.2,0],[1.5,0],[2.5,0.05],[3.5,0.08],[4.5,0.05],[5,0.05]];
const btIf1BaDn: Pt[] = [[-5,-0.05],[-4,-0.1],[-3,-0.08],[-2,-0.06],[-1,-0.04],[-0.2,0],[1.5,0],[2.5,-0.05],[3.5,-0.08],[4.5,-0.05],[5,-0.05]];

// ---------------- (b) BaTiO3 : Bulk ----------------
const btBulkTotUp: Pt[] = [[-4.6,0],[-4.5,0.3],[-4.4,1.5],[-4.3,2.7],[-4.2,3.3],[-4.11,3.9],[-3.99,3.1],[-3.9,2.8],[-3.8,2.5],[-3.65,2.8],[-3.47,3.3],[-3.3,3.6],[-3.15,4.3],[-3.05,5.5],[-2.96,7.6],[-2.9,7.6],[-2.86,7.2],[-2.8,5.5],[-2.76,4.7],[-2.7,6.5],[-2.67,7.6],[-2.62,6.0],[-2.57,4.7],[-2.48,4.5],[-2.38,4.3],[-2.25,3.6],[-2.12,2.7],[-2.0,2.0],[-1.86,1.4],[-1.67,1.2],[-1.55,2.8],[-1.48,4.3],[-1.38,5.5],[-1.28,6.4],[-1.2,7.2],[-1.15,7.6],[-1.05,6.6],[-0.96,5.2],[-0.83,4.2],[-0.7,3.5],[-0.57,2.6],[-0.44,1.9],[-0.3,1.2],[-0.18,0.6],[-0.1,0],[1.85,0],[1.95,0.4],[2.05,0.8],[2.15,1.1],[2.3,1.4],[2.47,1.7],[2.65,2.0],[2.8,2.3],[3.0,2.7],[3.12,3.0],[3.3,4.0],[3.45,5.0],[3.55,6.4],[3.64,7.4],[3.7,6.6],[3.77,5.0],[3.87,3.3],[3.96,2.3],[4.05,1.3],[4.15,0.4],[4.22,0],[4.3,0.6],[4.4,1.2],[4.48,1.5],[4.6,1.8],[4.74,1.9],[4.9,1.9],[5,1.9]];
const btBulkTotDn: Pt[] = [[-4.6,0],[-4.5,-0.3],[-4.4,-1.2],[-4.3,-2.3],[-4.2,-3.2],[-4.11,-3.9],[-4.0,-3.6],[-3.8,-3.7],[-3.65,-3.9],[-3.47,-4.3],[-3.3,-4.4],[-3.15,-4.7],[-3.05,-5.8],[-2.96,-7.6],[-2.9,-7.6],[-2.86,-7.2],[-2.8,-6.0],[-2.76,-5.6],[-2.7,-6.8],[-2.67,-7.6],[-2.6,-6.5],[-2.5,-5.2],[-2.38,-4.5],[-2.25,-4.2],[-2.12,-3.5],[-2.0,-2.7],[-1.86,-1.9],[-1.67,-1.6],[-1.55,-3.2],[-1.48,-4.7],[-1.38,-5.8],[-1.28,-6.8],[-1.2,-7.3],[-1.15,-7.6],[-1.05,-6.8],[-0.96,-6.0],[-0.83,-5.0],[-0.7,-4.2],[-0.57,-3.4],[-0.44,-2.3],[-0.3,-1.4],[-0.18,-0.6],[-0.1,0],[1.85,0],[1.95,-0.5],[2.05,-0.9],[2.15,-1.1],[2.3,-1.5],[2.47,-1.8],[2.65,-2.1],[2.8,-2.4],[3.0,-2.8],[3.12,-3.1],[3.3,-4.1],[3.45,-4.8],[3.55,-6.0],[3.64,-7.0],[3.7,-6.5],[3.77,-5.2],[3.87,-3.6],[3.96,-2.5],[4.05,-1.4],[4.15,-0.4],[4.22,0],[4.3,-0.7],[4.4,-1.3],[4.48,-1.7],[4.6,-1.9],[4.74,-2.0],[4.9,-2.0],[5,-2.0]];
const btBulkTiUp: Pt[] = [[-4.5,0],[-4.4,0.3],[-4.3,0.6],[-4.2,0.75],[-4.11,0.8],[-4.0,0.7],[-3.8,0.6],[-3.65,0.75],[-3.47,0.9],[-3.3,0.9],[-3.15,0.95],[-2.96,0.6],[-2.85,0.8],[-2.75,0.9],[-2.69,1.4],[-2.62,0.6],[-2.5,0.4],[-2.3,0.25],[-2.0,0.15],[-1.7,0.1],[-1.4,0.1],[-1.1,0.15],[-0.8,0.1],[-0.5,0.05],[-0.2,0],[1.89,0],[2.0,0.3],[2.15,0.8],[2.3,1.0],[2.47,1.2],[2.65,1.4],[2.8,1.6],[3.0,1.9],[3.12,2.1],[3.3,2.8],[3.45,3.5],[3.55,4.6],[3.64,5.6],[3.7,5.0],[3.77,3.9],[3.87,2.8],[3.96,1.9],[4.1,0.9],[4.22,0],[4.35,0.5],[4.48,0.8],[4.6,1.1],[4.74,1.3],[4.9,1.3],[5,1.3]];
const btBulkTiDn: Pt[] = [[-4.5,0],[-4.4,-0.3],[-4.3,-0.6],[-4.2,-0.7],[-4.11,-0.8],[-4.0,-0.75],[-3.8,-0.7],[-3.65,-0.75],[-3.47,-0.8],[-3.3,-0.85],[-3.15,-0.9],[-2.96,-0.7],[-2.85,-0.8],[-2.75,-0.9],[-2.69,-1.6],[-2.62,-0.6],[-2.5,-0.35],[-2.3,-0.2],[-2.0,-0.15],[-1.7,-0.1],[-1.4,-0.1],[-1.1,-0.15],[-0.8,-0.1],[-0.5,-0.05],[-0.2,0],[1.89,0],[2.0,-0.4],[2.15,-0.8],[2.3,-1.1],[2.47,-1.4],[2.65,-1.6],[2.8,-1.8],[3.0,-2.0],[3.12,-2.3],[3.3,-2.9],[3.45,-3.5],[3.55,-4.5],[3.64,-5.6],[3.7,-5.0],[3.77,-4.3],[3.87,-3.0],[3.96,-2.3],[4.1,-1.0],[4.22,0],[4.35,-0.6],[4.48,-0.8],[4.6,-1.1],[4.74,-1.4],[4.9,-1.4],[5,-1.4]];
const btBulkBaUp: Pt[] = [[-4.5,0],[-4.4,0.15],[-4.0,0.2],[-3.6,0.2],[-3.2,0.25],[-2.9,0.3],[-2.8,0.5],[-2.72,0.9],[-2.69,1.2],[-2.64,0.7],[-2.55,0.3],[-2.2,0.2],[-1.9,0.15],[-1.5,0.1],[-1.0,0.1],[-0.5,0.05],[-0.2,0],[5,0]];
const btBulkBaDn: Pt[] = [[-4.5,0],[-4.4,-0.15],[-4.0,-0.2],[-3.6,-0.2],[-3.2,-0.25],[-2.9,-0.3],[-2.8,-0.5],[-2.72,-0.9],[-2.69,-1.2],[-2.64,-0.7],[-2.55,-0.3],[-2.2,-0.2],[-1.9,-0.15],[-1.5,-0.1],[-1.0,-0.1],[-0.5,-0.05],[-0.2,0],[5,0]];

// ---------------- styles ----------------
const SANS = '"DejaVu Sans", sans-serif';
const SERIF = '"DejaVu Serif", serif';
const SHADE = 'rgba(185,135,130,0.5)';
const SHADE_EDGE = 'rgba(190,140,135,0.6)';
const BLUE = '#1a1ae8';
const RED = '#ee1c1c';
const GREEN = '#1f8a1f';
const NAVY = '#22228a';

type Part = { t: string; font: string; dy?: number };
type Label = { x: number; y: number; sx: number; parts: Part[] };
type LegendSpec = { x: number; len: number; ys: number[]; items: { label: string; color: string }[] };
type Spec = {
  key: string;
  left: number; top: number; width: number; height: number;
  pad: { left: number; right: number; top: number; bottom: number };
  xMin: number; xMax: number;
  yAxis: boolean; xAxis: boolean;
  xMarks: number[]; xLabels: number[];
  datasets: any[];
  labels: Label[];
  legend?: LegendSpec;
};

const toXY = (pts: Pt[]) => pts.map(([x, y]) => ({ x, y }));
const shade = (pts: Pt[]) => ({ data: toXY(pts), borderColor: SHADE_EDGE, borderWidth: 0.8, backgroundColor: SHADE, fill: 'origin', pointRadius: 0, order: 2 });
const line = (pts: Pt[], color: string) => ({ data: toXY(pts), borderColor: color, borderWidth: 1.5, fill: false, pointRadius: 0, order: 1 });
const fmt = (v: number) => (v < 0 ? '\u2212' + Math.abs(v) : String(v));
const txt = (x: number, y: number, t: string): Label => ({ x, y, sx: 1.1, parts: [{ t, font: `19px ${SANS}` }] });

const specs: Spec[] = [
  {
    key: 'a1', left: 0, top: 0, width: 600, height: 145, pad: { left: 0, right: 10, top: 8, bottom: 7 },
    xMin: -4, xMax: 4, yAxis: true, xAxis: false, xMarks: leftTicks, xLabels: leftTicks,
    datasets: [line(nfIf2NiUp, BLUE), line(nfIf2NiDn, BLUE), line(nfIf2FeUp, RED), line(nfIf2FeDn, RED), shade(nfIf2TotUp), shade(nfIf2TotDn)],
    labels: [
      { x: 97, y: 41, sx: 1.1, parts: [{ t: '(a)', font: `25px ${SERIF}` }] },
      { x: 152, y: 39, sx: 1.17, parts: [{ t: 'NiFe', font: `bold 20px ${SERIF}` }, { t: '2', font: `14px ${SERIF}`, dy: 3 }, { t: 'O', font: `bold 20px ${SERIF}` }, { t: '4', font: `14px ${SERIF}`, dy: 3 }] },
      txt(514, 43, 'IF-2'),
    ],
  },
  {
    key: 'a2', left: 0, top: 130, width: 600, height: 145, pad: { left: 0, right: 10, top: 8, bottom: 7 },
    xMin: -4, xMax: 4, yAxis: true, xAxis: false, xMarks: leftTicks, xLabels: leftTicks,
    datasets: [line(nfIf1NiUp, BLUE), line(nfIf1NiDn, BLUE), line(nfIf1FeUp, RED), line(nfIf1FeDn, RED), shade(nfIf1TotUp), shade(nfIf1TotDn)],
    labels: [txt(514, 171, 'IF-1')],
  },
  {
    key: 'a3', left: 0, top: 260, width: 600, height: 192, pad: { left: 0, right: 10, top: 8, bottom: 0 },
    xMin: -4, xMax: 4, yAxis: true, xAxis: true, xMarks: leftTicks, xLabels: leftTicks,
    datasets: [line(nfBulkNiUp, BLUE), line(nfBulkNiDn, BLUE), line(nfBulkFeOhUp, RED), line(nfBulkFeOhDn, RED), line(nfBulkFeTdUp, GREEN), line(nfBulkFeTdDn, GREEN), shade(nfBulkTotUp), shade(nfBulkTotDn)],
    labels: [txt(532, 299, 'Bulk')],
    legend: { x: 332, len: 26, ys: [281.7, 301.7, 320], items: [{ label: 'Ni', color: BLUE }, { label: 'Fe(Oh)', color: RED }, { label: 'Fe(Td)', color: GREEN }] },
  },
  {
    key: 'b1', left: 592, top: 0, width: 523, height: 145, pad: { left: 5, right: 5, top: 8, bottom: 7 },
    xMin: -5, xMax: 5, yAxis: false, xAxis: false, xMarks: rightOddTicks, xLabels: rightEvenTicks,
    datasets: [line(btIf2BaUp, NAVY), line(btIf2BaDn, NAVY), line(btIf2TiUp, RED), line(btIf2TiDn, RED), shade(btIf2TotUp), shade(btIf2TotDn)],
    labels: [
      { x: 615, y: 41, sx: 1.1, parts: [{ t: '(b)', font: `25px ${SERIF}` }] },
      { x: 658, y: 40, sx: 1.3, parts: [{ t: 'BaTiO', font: `bold 20px ${SERIF}` }, { t: '3', font: `14px ${SERIF}`, dy: 3 }] },
      txt(1058, 35, 'IF-2'),
    ],
  },
  {
    key: 'b2', left: 592, top: 130, width: 523, height: 145, pad: { left: 5, right: 5, top: 8, bottom: 7 },
    xMin: -5, xMax: 5, yAxis: false, xAxis: false, xMarks: rightOddTicks, xLabels: rightEvenTicks,
    datasets: [line(btIf1BaUp, NAVY), line(btIf1BaDn, NAVY), line(btIf1TiUp, RED), line(btIf1TiDn, RED), shade(btIf1TotUp), shade(btIf1TotDn)],
    labels: [txt(1058, 165, 'IF-1')],
  },
  {
    key: 'b3', left: 592, top: 260, width: 523, height: 192, pad: { left: 5, right: 5, top: 8, bottom: 0 },
    xMin: -5, xMax: 5, yAxis: false, xAxis: true, xMarks: rightEvenTicks, xLabels: rightEvenTicks,
    datasets: [line(btBulkBaUp, BLUE), line(btBulkBaDn, BLUE), line(btBulkTiUp, RED), line(btBulkTiDn, RED), shade(btBulkTotUp), shade(btBulkTotDn)],
    labels: [txt(1058, 292, 'Bulk')],
    legend: { x: 873, len: 29, ys: [283, 302], items: [{ label: 'Ba', color: BLUE }, { label: 'Ti', color: RED }] },
  },
];

function makeDecor(spec: Spec) {
  return {
    id: 'decor_' + spec.key,
    afterDatasetsDraw(chart: any) {
      const { ctx, chartArea: a, scales } = chart;
      const xs = scales.x;
      const ys = scales.y;
      ctx.save();
      ctx.strokeStyle = '#000';
      ctx.setLineDash([5, 4]);
      ctx.lineWidth = 1.2;
      const y0 = ys.getPixelForValue(0);
      ctx.beginPath(); ctx.moveTo(a.left, y0); ctx.lineTo(a.right, y0); ctx.stroke();
      ctx.setLineDash([3, 3]);
      ctx.lineWidth = 1;
      const x0 = xs.getPixelForValue(0);
      ctx.beginPath(); ctx.moveTo(x0, a.top); ctx.lineTo(x0, a.bottom); ctx.stroke();
      ctx.setLineDash([]);
      ctx.lineWidth = 1.6;
      ctx.beginPath();
      for (const v of spec.xMarks) {
        const px = xs.getPixelForValue(v);
        ctx.moveTo(px, a.top); ctx.lineTo(px, a.top + 6);
        ctx.moveTo(px, a.bottom); ctx.lineTo(px, a.bottom - 6);
      }
      for (const v of dosTicks) {
        const py = ys.getPixelForValue(v);
        ctx.moveTo(a.left, py); ctx.lineTo(a.left + 6, py);
        ctx.moveTo(a.right, py); ctx.lineTo(a.right - 6, py);
      }
      ctx.stroke();
      ctx.lineWidth = 2;
      ctx.strokeRect(a.left, a.top, a.right - a.left, a.bottom - a.top);
      ctx.fillStyle = '#151515';
      ctx.textBaseline = 'alphabetic';
      ctx.textAlign = 'left';
      for (const lab of spec.labels) {
        ctx.save();
        ctx.translate(lab.x - spec.left, lab.y - spec.top);
        ctx.scale(lab.sx, 1);
        let cx = 0;
        for (const p of lab.parts) {
          ctx.font = p.font;
          ctx.fillText(p.t, cx, p.dy || 0);
          cx += ctx.measureText(p.t).width;
        }
        ctx.restore();
      }
      if (spec.legend) {
        const lg = spec.legend;
        lg.items.forEach((it, i) => {
          const ly = lg.ys[i] - spec.top;
          const lx = lg.x - spec.left;
          ctx.strokeStyle = it.color;
          ctx.lineWidth = 2.5;
          ctx.beginPath(); ctx.moveTo(lx, ly); ctx.lineTo(lx + lg.len, ly); ctx.stroke();
          ctx.save();
          ctx.translate(lx + lg.len + 4, ly + 1);
          ctx.scale(1.1, 1);
          ctx.font = `19px ${SANS}`;
          ctx.fillStyle = '#151515';
          ctx.textBaseline = 'middle';
          ctx.fillText(it.label, 0, 0);
          ctx.restore();
        });
      }
      ctx.restore();
    },
  };
}

function Panel({ spec }: { spec: Spec }) {
  const ref = useRef<HTMLCanvasElement | null>(null);
  useEffect(() => {
    const canvas = ref.current;
    if (!canvas) return;
    const chart = new Chart(canvas, {
      type: 'line',
      data: { datasets: spec.datasets },
      options: {
        animation: false,
        responsive: false,
        maintainAspectRatio: false,
        devicePixelRatio: 1,
        events: [],
        layout: { padding: spec.pad },
        plugins: { legend: { display: false }, tooltip: { enabled: false }, title: { display: false } },
        elements: { point: { radius: 0 }, line: { tension: 0 } },
        scales: {
          x: {
            type: 'linear', min: spec.xMin, max: spec.xMax, display: spec.xAxis,
            grid: { display: false }, border: { display: false },
            ticks: { autoSkip: false, maxRotation: 0, padding: 4, color: '#151515', font: { family: SANS, size: 19 }, callback: (v: any) => fmt(Number(v)) },
            title: { display: true, text: 'Energy (eV)', color: '#151515', font: { family: SANS, size: 20 }, padding: { top: 0, bottom: 2 } },
            afterBuildTicks: (s: any) => { s.ticks = spec.xLabels.map((v) => ({ value: v })); },
            afterFit: (s: any) => {
              s.height = spec.xAxis ? 56 : 0;
              s.paddingLeft = 0; s.paddingRight = 0; s.paddingTop = 0; s.paddingBottom = 0;
            },
          },
          y: {
            type: 'linear', min: -8, max: 8, display: spec.yAxis,
            grid: { display: false }, border: { display: false },
            ticks: { padding: 10, color: '#151515', font: { family: SANS, size: 19 }, callback: (v: any) => fmt(Number(v)) },
            title: { display: true, text: 'DOS', color: '#151515', font: { family: SANS, size: 20 }, padding: { top: 8, bottom: 0 } },
            afterBuildTicks: (s: any) => { s.ticks = dosTicks.map((v) => ({ value: v })); },
            afterFit: (s: any) => {
              s.width = spec.yAxis ? 75 : 0;
              s.paddingLeft = 0; s.paddingRight = 0; s.paddingTop = 0; s.paddingBottom = 0;
            },
          },
        },
      } as any,
      plugins: [makeDecor(spec)],
    });
    return () => chart.destroy();
  }, [spec]);
  return (
    <canvas
      ref={ref}
      width={spec.width}
      height={spec.height}
      style={{ position: 'absolute', left: spec.left, top: spec.top, width: spec.width, height: spec.height }}
    />
  );
}

export default function App() {
  return (
    <div style={{ position: 'absolute', left: 0, top: 0, width: 1107, height: 452, overflow: 'hidden', background: '#fff' }}>
      {specs.map((s) => (
        <Panel key={s.key} spec={s} />
      ))}
    </div>
  );
}
